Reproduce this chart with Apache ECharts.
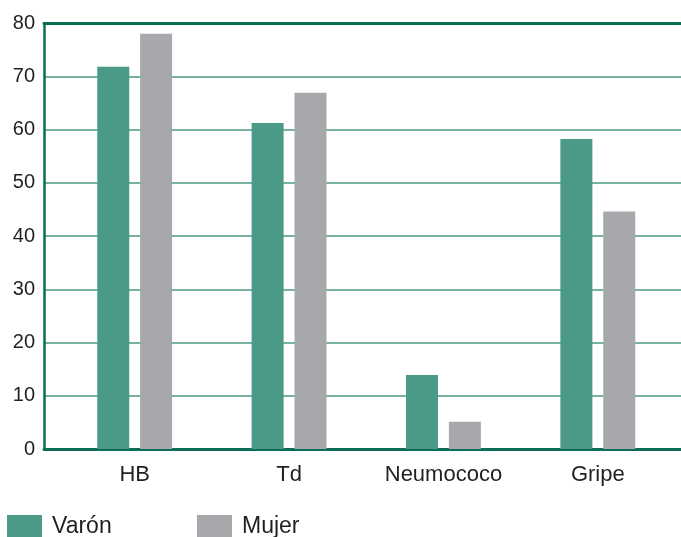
<!DOCTYPE html>
<html>
<head>
<meta charset="utf-8">
<script src="https://cdn.jsdelivr.net/npm/echarts@6/dist/echarts.min.js"></script>
<style>
  html, body { margin: 0; padding: 0; background: #ffffff; }
  #chart { width: 681px; height: 537px; }
</style>
</head>
<body>
<div id="chart"></div>
<script>
// Vaccination coverage by sex (%)
const categories = ['HB', 'Td', 'Neumococo', 'Gripe'];
const varon = [71.8, 61.2, 13.9, 58.2];
const mujer = [78.0, 66.9, 5.1, 44.6];
const yTicks = [0, 10, 20, 30, 40, 50, 60, 70, 80];

const GREEN = '#4a9a87';
const GRAY = '#a7a8ac';
const AXIS = '#0b6e54';
const GRID = '#4a9a82';
const TEXT = '#231f20';
const FONT = '"Liberation Sans", Arial, Helvetica, sans-serif';

const yMin = yTicks[0];
const yMax = yTicks[yTicks.length - 1];
const yStep = yTicks[1] - yTicks[0];

const chart = echarts.init(document.getElementById('chart'), null, { renderer: 'canvas' });

// legend text sits a little lower than the swatch centre
const legendText = { fontSize: 23, color: TEXT, fontFamily: FONT, padding: [8, 0, 0, 5] };

chart.setOption({
  animation: false,
  backgroundColor: '#ffffff',
  textStyle: { fontFamily: FONT, color: TEXT },
  grid: [
    // frame: y axis, gridlines, top and bottom rules
    { left: 44, right: 0, top: 23, bottom: 88, containLabel: false },
    // bars
    { left: 57.5, right: 6, top: 23, bottom: 88, containLabel: false }
  ],
  legend: [
    {
      data: ['Varón'], left: 7, top: 515, padding: 0,
      icon: 'rect', itemWidth: 35, itemHeight: 24, textStyle: legendText
    },
    {
      data: ['Mujer'], left: 197, top: 515, padding: 0,
      icon: 'rect', itemWidth: 35, itemHeight: 24, textStyle: legendText
    }
  ],
  xAxis: [
    {
      gridIndex: 0, type: 'value', min: 0, max: 1, position: 'bottom',
      axisLine: { show: true, onZero: false, lineStyle: { color: AXIS, width: 3 } },
      axisTick: { show: false }, axisLabel: { show: false }, splitLine: { show: false }
    },
    {
      gridIndex: 0, type: 'value', min: 0, max: 1, position: 'top',
      axisLine: { show: true, onZero: false, lineStyle: { color: AXIS, width: 3 } },
      axisTick: { show: false }, axisLabel: { show: false }, splitLine: { show: false }
    },
    {
      gridIndex: 1, type: 'category', data: categories, position: 'bottom',
      axisLine: { show: false }, axisTick: { show: false },
      axisLabel: { show: true, fontSize: 22, color: TEXT, fontFamily: FONT, margin: 15 },
      splitLine: { show: false }
    }
  ],
  yAxis: [
    {
      gridIndex: 0, type: 'value', min: yMin, max: yMax, interval: yStep,
      axisLine: { show: true, lineStyle: { color: AXIS, width: 2.5 } },
      axisTick: { show: false },
      axisLabel: { fontSize: 20, color: TEXT, fontFamily: FONT, margin: 9 },
      splitLine: { show: true, lineStyle: { color: GRID, width: 1.6 } }
    },
    {
      gridIndex: 1, type: 'value', min: yMin, max: yMax, interval: yStep,
      show: false, splitLine: { show: false }
    }
  ],
  series: [
    {
      name: 'Varón', type: 'bar', xAxisIndex: 2, yAxisIndex: 1,
      data: varon, barWidth: 32, barGap: '34%',
      itemStyle: { color: GREEN }, z: 3
    },
    {
      name: 'Mujer', type: 'bar', xAxisIndex: 2, yAxisIndex: 1,
      data: mujer, barWidth: 32, barGap: '34%',
      itemStyle: { color: GRAY }, z: 3
    }
  ]
});
</script>
</body>
</html>
